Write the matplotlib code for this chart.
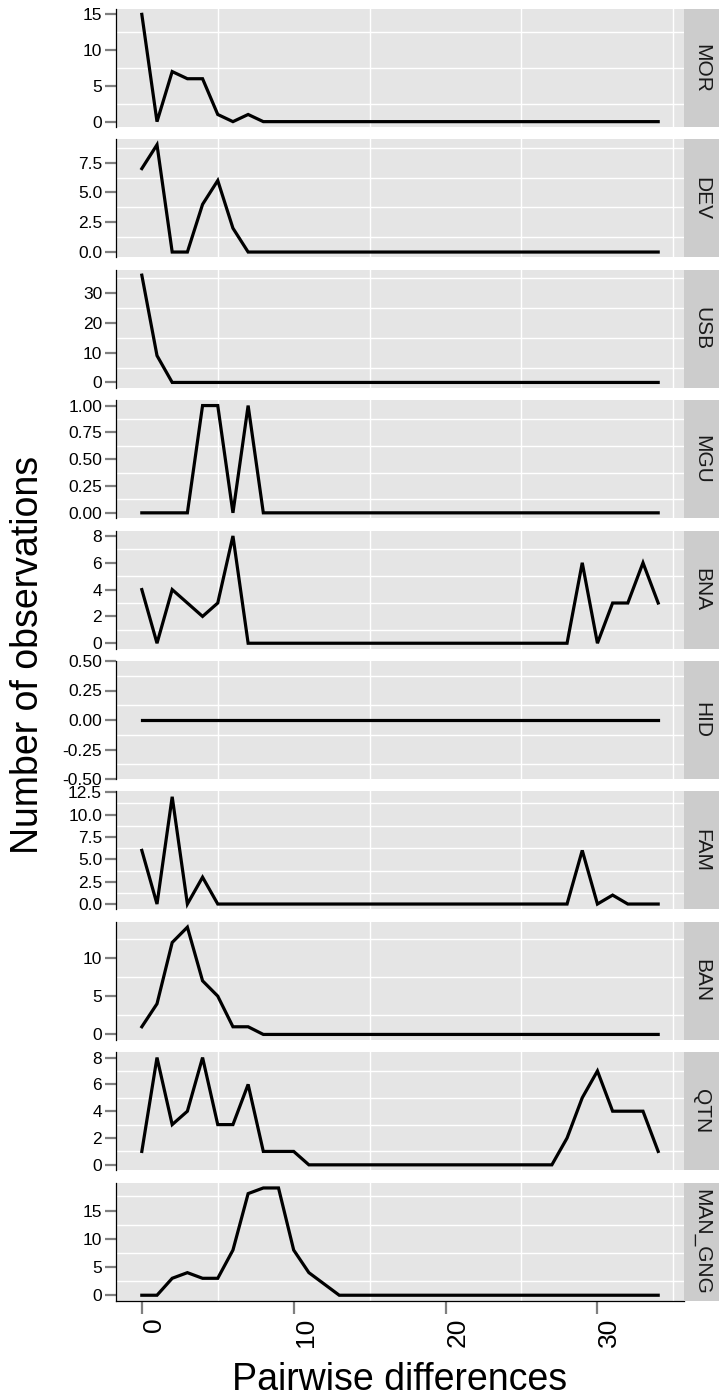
import numpy as np
import matplotlib.pyplot as plt

plt.rcParams['font.family'] = ['Liberation Sans', 'DejaVu Sans']

# pairwise differences on the x axis
pairwise = np.arange(35)

groups = ["MOR", "DEV", "USB", "MGU", "BNA", "HID", "FAM", "BAN", "QTN", "MAN_GNG"]

mor = [15, 0, 7, 6, 6, 1, 0, 1, 0, 0,
       0, 0, 0, 0, 0, 0, 0, 0, 0, 0,
       0, 0, 0, 0, 0, 0, 0, 0, 0, 0,
       0, 0, 0, 0, 0]
dev = [7, 9, 0, 0, 4, 6, 2, 0, 0, 0,
       0, 0, 0, 0, 0, 0, 0, 0, 0, 0,
       0, 0, 0, 0, 0, 0, 0, 0, 0, 0,
       0, 0, 0, 0, 0]
usb = [36, 9, 0, 0, 0, 0, 0, 0, 0, 0,
       0, 0, 0, 0, 0, 0, 0, 0, 0, 0,
       0, 0, 0, 0, 0, 0, 0, 0, 0, 0,
       0, 0, 0, 0, 0]
mgu = [0, 0, 0, 0, 1, 1, 0, 1, 0, 0,
       0, 0, 0, 0, 0, 0, 0, 0, 0, 0,
       0, 0, 0, 0, 0, 0, 0, 0, 0, 0,
       0, 0, 0, 0, 0]
bna = [4, 0, 4, 3, 2, 3, 8, 0, 0, 0,
       0, 0, 0, 0, 0, 0, 0, 0, 0, 0,
       0, 0, 0, 0, 0, 0, 0, 0, 0, 6,
       0, 3, 3, 6, 3]
hid = [0, 0, 0, 0, 0, 0, 0, 0, 0, 0,
       0, 0, 0, 0, 0, 0, 0, 0, 0, 0,
       0, 0, 0, 0, 0, 0, 0, 0, 0, 0,
       0, 0, 0, 0, 0]
fam = [6, 0, 12, 0, 3, 0, 0, 0, 0, 0,
       0, 0, 0, 0, 0, 0, 0, 0, 0, 0,
       0, 0, 0, 0, 0, 0, 0, 0, 0, 6,
       0, 1, 0, 0, 0]
ban = [1, 4, 12, 14, 7, 5, 1, 1, 0, 0,
       0, 0, 0, 0, 0, 0, 0, 0, 0, 0,
       0, 0, 0, 0, 0, 0, 0, 0, 0, 0,
       0, 0, 0, 0, 0]
qtn = [1, 8, 3, 4, 8, 3, 3, 6, 1, 1,
       1, 0, 0, 0, 0, 0, 0, 0, 0, 0,
       0, 0, 0, 0, 0, 0, 0, 0, 2, 5,
       7, 4, 4, 4, 1]
man_gng = [0, 0, 3, 4, 3, 3, 8, 18, 19, 19,
           8, 4, 2, 0, 0, 0, 0, 0, 0, 0,
           0, 0, 0, 0, 0, 0, 0, 0, 0, 0,
           0, 0, 0, 0, 0]

series = [mor, dev, usb, mgu, bna, hid, fam, ban, qtn, man_gng]

y_ticks = [
    [0, 5, 10, 15],
    [0, 2.5, 5, 7.5],
    [0, 10, 20, 30],
    [0, 0.25, 0.5, 0.75, 1],
    [0, 2, 4, 6, 8],
    [-0.5, -0.25, 0, 0.25, 0.5],
    [0, 2.5, 5, 7.5, 10, 12.5],
    [0, 5, 10],
    [0, 2, 4, 6, 8],
    [0, 5, 10, 15],
]
y_labels = [
    ["0", "5", "10", "15"],
    ["0.0", "2.5", "5.0", "7.5"],
    ["0", "10", "20", "30"],
    ["0.00", "0.25", "0.50", "0.75", "1.00"],
    ["0", "2", "4", "6", "8"],
    ["-0.50", "-0.25", "0.00", "0.25", "0.50"],
    ["0.0", "2.5", "5.0", "7.5", "10.0", "12.5"],
    ["0", "5", "10"],
    ["0", "2", "4", "6", "8"],
    ["0", "5", "10", "15"],
]
x_ticks = [0, 10, 20, 30]

W, H = 719, 1397
fig = plt.figure(figsize=(W / 100, H / 100), dpi=100)

p_left, p_right = 116, 684
strip_w = 35
top0, p_h, pitch = 9, 118, 130.4

xmin, xmax = min(pairwise), max(pairwise)
xr = xmax - xmin
xlim = (xmin - 0.05 * xr, xmax + 0.05 * xr)

for i, (name, vals) in enumerate(zip(groups, series)):
    top = top0 + i * pitch
    ax = fig.add_axes([p_left / W, 1 - (top + p_h) / H, (p_right - p_left) / W, p_h / H])
    ax.set_facecolor("#E5E5E5")
    ax.plot(pairwise, vals, color="black", lw=2.3, solid_joinstyle="miter", zorder=3)

    lo, hi = min(vals), max(vals)
    if hi == lo:
        ylim = (lo - 0.5, hi + 0.5)
    else:
        r = hi - lo
        ylim = (lo - 0.05 * r, hi + 0.05 * r)
    ax.set_xlim(xlim)
    ax.set_ylim(ylim)

    tk = y_ticks[i]
    step = tk[1] - tk[0]
    minor_y = [t + step / 2 for t in [tk[0] - step] + tk]
    minor_y = [m for m in minor_y if ylim[0] < m < ylim[1]]
    ax.set_yticks(tk)
    ax.set_yticklabels(y_labels[i])
    ax.set_yticks(minor_y, minor=True)
    ax.set_xticks(x_ticks)
    ax.set_xticks([5, 15, 25, 35], minor=True)
    ax.grid(False)
    ax.grid(True, which="minor", color="white", lw=1.0)
    ax.set_axisbelow(True)

    for s in ["top", "right", "bottom"]:
        ax.spines[s].set_visible(False)
    ax.spines["left"].set_color("black")
    ax.spines["left"].set_linewidth(0.9)
    ax.tick_params(axis="y", which="major", length=8, width=1.6, color="#7F7F7F",
                   labelsize=12.5, labelcolor="black", pad=2)
    ax.tick_params(which="minor", length=0)

    if i == len(groups) - 1:
        ax.spines["bottom"].set_visible(True)
        ax.spines["bottom"].set_color("black")
        ax.spines["bottom"].set_linewidth(0.9)
        ax.tick_params(axis="x", which="major", length=9, width=1.6, color="#7F7F7F",
                       labelsize=19, labelcolor="black", pad=3)
        for lab in ax.get_xticklabels():
            lab.set_rotation(90)
            lab.set_ha("left")
            lab.set_va("top")
    else:
        ax.tick_params(axis="x", which="both", length=0, labelbottom=False)

    sax = fig.add_axes([p_right / W, 1 - (top + p_h) / H, strip_w / W, p_h / H])
    sax.set_facecolor("#CCCCCC")
    sax.set_xticks([])
    sax.set_yticks([])
    for s in sax.spines.values():
        s.set_visible(False)
    sax.text(0.5, 0.5, name, rotation=-90, ha="center", va="center",
             fontsize=15, color="#1A1A1A", transform=sax.transAxes)

panel_mid_y = 1 - (top0 + (9 * pitch + p_h) / 2) / H
fig.text(28 / W, panel_mid_y, "Number of observations", rotation=90,
         ha="center", va="center", fontsize=27)
fig.text((p_left + p_right) / 2 / W, 7 / H, "Pairwise differences",
         ha="center", va="baseline", fontsize=27)

fig.savefig("out.png", dpi=100)
